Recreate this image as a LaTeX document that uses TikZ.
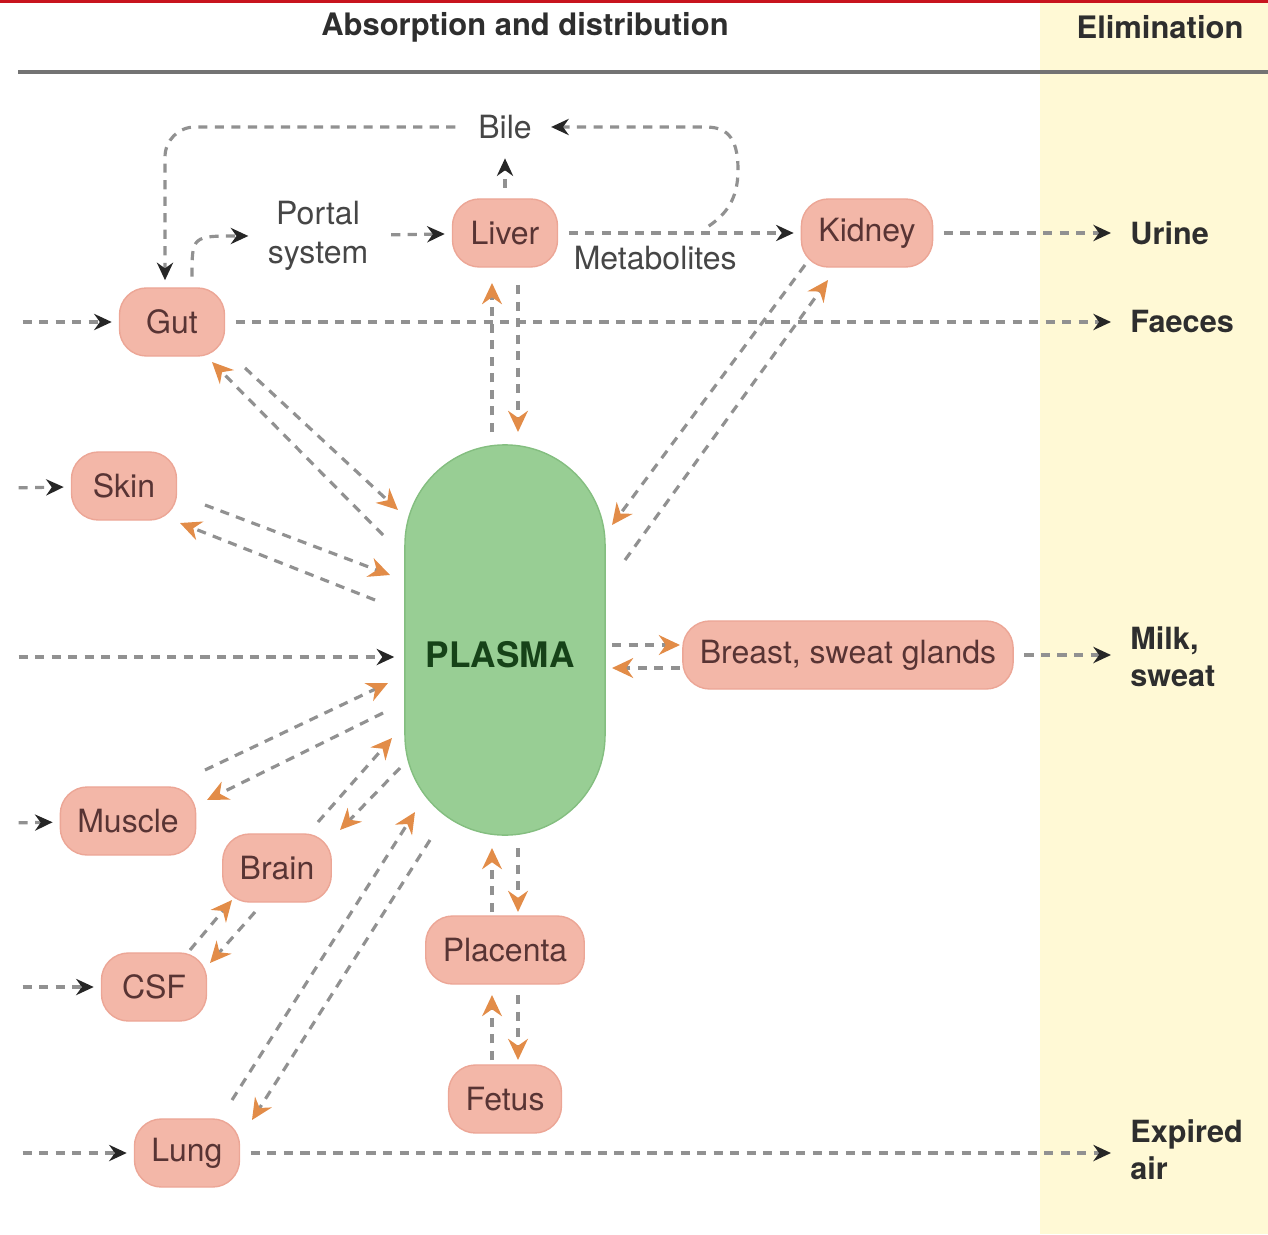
\documentclass[tikz,border=0pt]{standalone}
\usepackage{fontspec}
\setmainfont{TeX Gyre Heros}
\usepackage{tikz}
\usetikzlibrary{positioning}
\usetikzlibrary{%
  calc,%
  arrows.meta%
}
\definecolor{organfill}{RGB}{243,183,168}
\definecolor{organedge}{RGB}{236,166,150}
\definecolor{organtext}{RGB}{88,52,52}
\definecolor{plasmafill}{RGB}{152,206,148}
\definecolor{plasmaedge}{RGB}{132,190,128}
\definecolor{plasmatext}{RGB}{22,66,24}
\definecolor{elimbg}{RGB}{255,249,213}
\definecolor{dashgray}{RGB}{145,145,145}
\definecolor{tipor}{RGB}{226,140,72}
\definecolor{txtgray}{RGB}{70,70,70}
\definecolor{topred}{RGB}{200,20,30}

\begin{document}
\begin{tikzpicture}[x=0.01cm, y=-0.01cm,
  every node/.style={font=\fontsize{9.1}{11}\selectfont, text=txtgray},
  organ/.style={fill=organfill, draw=organedge, line width=0.4pt, rounded corners=0.27cm,
    minimum height=0.68cm, minimum width=1.05cm, inner xsep=0.17cm, text=organtext},
  plasma/.style={fill=plasmafill, draw=plasmaedge, line width=0.4pt, rounded corners=1cm,
    minimum width=2cm, minimum height=3.9cm},
  head/.style={font=\fontsize{8.8}{10.5}\selectfont\bfseries, text=black!82},
  elim/.style={anchor=west, align=left, font=\fontsize{8.7}{10.5}\selectfont\bfseries, text=black!82},
  flow/.style={draw=dashgray, line width=0.9pt, dash pattern=on 2.6pt off 2.1pt,
    -{Stealth[length=5pt,width=4.6pt,color=black!85]}, shorten >=2pt, shorten <=3pt},
  swap/.style={draw=dashgray, line width=0.9pt, dash pattern=on 2.6pt off 2.1pt,
    -{Stealth[length=6pt,width=5.6pt,color=tipor]}}]
\useasboundingbox (0,0) rectangle (1268,1234);

% elimination column and header rule
\fill[elimbg] (1040,0) rectangle (1268,1234);
\draw[topred, line width=0.85pt] (0,1.5) -- (1268,1.5);
\draw[black!55, line width=1.2pt] (18,72) -- (1268,72);
\node[head] (Habs) at (525,27) {Absorption and distribution};
\node[head] (Helim) at (1160,27) {Elimination};

% compartments
\node[plasma] (P) at (505,640) {};
\node[font=\fontsize{10}{12}\selectfont\bfseries, text=plasmatext] (Ptext) at (500,655) {PLASMA};

\node (Bile) at (505,127) {Bile};
\node[align=center] (Portal) at (318,236) {Portal\\system};
\node[organ] (Liver) at (505,233) {Liver};
\node[organ] (Kidney) at (867,233) {Kidney};
\node[organ] (Gut) at (172,322) {Gut};
\node[organ] (Skin) at (124,486) {Skin};
\node[organ] (Breast) at (848,655) {Breast, sweat glands};
\node[organ] (Muscle) at (128,821) {Muscle};
\node[organ] (Brain) at (277,868) {Brain};
\node[organ] (CSF) at (154,987) {CSF};
\node[organ] (Placenta) at (505,950) {Placenta};
\node[organ] (Fetus) at (505,1099) {Fetus};
\node[organ] (Lung) at (187,1153) {Lung};

\node[elim] (Urine) at (1118,233) {Urine};
\node[elim] (Faeces) at (1118,321) {Faeces};
\node[elim] (Milk) at (1118,657) {Milk,\\sweat};
\node[elim] (Expired) at (1118,1150) {Expired\\air};

% free ends of the entry routes
\coordinate (inGut) at (12,322);
\coordinate (inSkin) at (8,488);
\coordinate (inP) at (8,657);
\coordinate (inMuscle) at (8,823);
\coordinate (inCSF) at (12,987);
\coordinate (inLung) at (12,1153);
\coordinate (M) at (700,232);

% one-way routes
\draw[flow, rounded corners=0.3cm] (Bile.west) -| ($(Gut.north)+(-7,0)$);
\draw[flow] (M) .. controls (725,215) and (738,200) .. (738,170)
  .. controls (738,135) and (725,127) .. (705,127) -- (Bile.east);
\draw[flow] ($(Gut.north)+(20,0)$) .. controls (192,236) .. (Portal.west);
\draw[flow, shorten >=0.1cm] (inP) -- (inP -| P.west);

\draw
  (Liver) edge[flow] (Bile)
  (Portal) edge[flow] (Liver)
  (Liver) edge[flow] node[below, pos=0.4] (Metab) {Metabolites} (Kidney)
  (Kidney) edge[flow] (Urine)
  (inGut) edge[flow] (Gut)
  (Gut) edge[flow] (Gut -| Faeces.west)
  (inSkin) edge[flow] (Skin)
  (Breast) edge[flow] (Breast -| Milk.west)
  (inMuscle) edge[flow] (Muscle)
  (inCSF) edge[flow] (CSF)
  (inLung) edge[flow] (Lung)
  (Lung) edge[flow] (Lung -| Expired.west)
;

% exchange with plasma, both ways
\draw
  ($(P)+(-13,-208)$) edge[swap] ($(Liver)+(-13,50)$)
  ($(Liver)+(13,52)$) edge[swap] ($(P)+(13,-208)$)
  ($(P)+(-122,-105)$) edge[swap] ($(Gut)+(40,40)$)
  ($(Gut)+(73,46)$) edge[swap] ($(P)+(-107,-130)$)
  ($(Skin)+(81,19)$) edge[swap] ($(P)+(-115,-65)$)
  ($(P)+(-130,-40)$) edge[swap] ($(Skin)+(56,37)$)
  ($(P)+(120,-80)$) edge[swap] ($(Kidney)+(-39,47)$)
  ($(Kidney)+(-62,32)$) edge[swap] ($(P)+(107,-115)$)
  ($(P)+(107,5)$) edge[swap] ($(Breast)+(-168,-10)$)
  ($(Breast)+(-168,13)$) edge[swap] ($(P)+(107,28)$)
  ($(Muscle)+(77,-51)$) edge[swap] ($(P)+(-117,43)$)
  ($(P)+(-122,73)$) edge[swap] ($(Muscle)+(79,-21)$)
  ($(Brain)+(41,-46)$) edge[swap] ($(P)+(-113,98)$)
  ($(P)+(-105,128)$) edge[swap] ($(Brain)+(63,-38)$)
  ($(CSF)+(36,-37)$) edge[swap] ($(Brain)+(-45,32)$)
  ($(Brain)+(-22,44)$) edge[swap] ($(CSF)+(56,-24)$)
  ($(Lung)+(45,-53)$) edge[swap] ($(P)+(-90,172)$)
  ($(P)+(-75,200)$) edge[swap] ($(Lung)+(65,-33)$)
  ($(Placenta)+(-13,-38)$) edge[swap] ($(P)+(-13,208)$)
  ($(P)+(13,208)$) edge[swap] ($(Placenta)+(13,-38)$)
  ($(Fetus)+(-13,-39)$) edge[swap] ($(Placenta)+(-13,45)$)
  ($(Placenta)+(13,45)$) edge[swap] ($(Fetus)+(13,-39)$)
;
\end{tikzpicture}
\end{document}
